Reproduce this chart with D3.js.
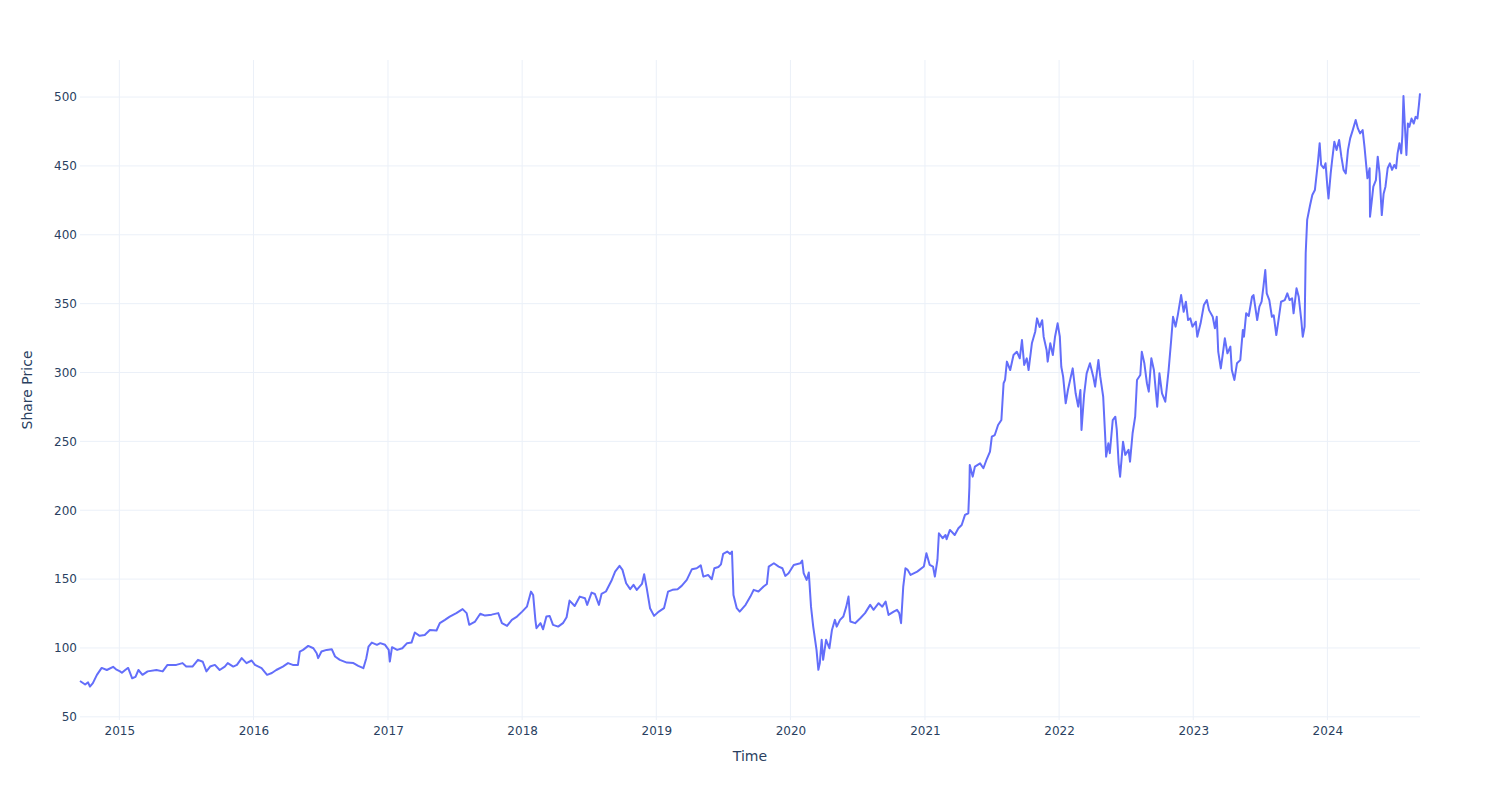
<!DOCTYPE html>
<html>
<head>
<meta charset="utf-8">
<script src="https://cdn.jsdelivr.net/npm/d3@7"></script>
<style>
  html, body { margin: 0; padding: 0; background: #fff; }
  svg { display: block; font-family: "DejaVu Sans", Verdana, Arial, sans-serif; }
</style>
</head>
<body>
<svg id="chart" width="1500" height="800"></svg>
<script>
// ---- data ----
const dates = [
"2014-09-16","2014-09-30","2014-10-08","2014-10-13","2014-10-21","2014-11-01","2014-11-14","2014-11-28","2014-12-15","2014-12-23",
"2015-01-03","2015-01-08","2015-01-17","2015-01-25","2015-02-05","2015-02-14","2015-02-22","2015-03-05","2015-03-19","2015-04-12",
"2015-04-29","2015-05-12","2015-06-05","2015-06-22","2015-07-02","2015-07-19","2015-08-03","2015-08-16","2015-08-26","2015-09-05",
"2015-09-18","2015-10-01","2015-10-15","2015-10-23","2015-11-07","2015-11-17","2015-11-30","2015-12-13","2015-12-27",
"2016-01-05","2016-01-23","2016-02-07","2016-02-20","2016-03-03","2016-03-21","2016-04-04","2016-04-17","2016-05-01","2016-05-06",
"2016-05-15","2016-05-29","2016-06-12","2016-06-21","2016-06-25","2016-07-04","2016-07-18","2016-08-01","2016-08-10","2016-08-23",
"2016-09-11","2016-09-29","2016-10-12","2016-10-26","2016-11-03","2016-11-09","2016-11-18","2016-12-02","2016-12-11","2016-12-24",
"2017-01-03","2017-01-06","2017-01-12","2017-01-26","2017-02-09","2017-02-22","2017-03-06","2017-03-15","2017-03-28","2017-04-11",
"2017-04-25","2017-05-13","2017-05-22","2017-06-05","2017-06-18","2017-07-06","2017-07-23","2017-08-03","2017-08-10","2017-08-26",
"2017-09-09","2017-09-22","2017-10-10","2017-10-28","2017-11-07","2017-11-21","2017-12-04","2017-12-18",
"2018-01-01","2018-01-14","2018-01-25","2018-01-31","2018-02-06","2018-02-09","2018-02-20","2018-02-27","2018-03-08","2018-03-17",
"2018-03-26","2018-04-09","2018-04-22","2018-05-02","2018-05-10","2018-05-24","2018-06-07","2018-06-21","2018-06-27","2018-07-09",
"2018-07-18","2018-07-29","2018-08-05","2018-08-17","2018-09-02","2018-09-11","2018-09-23","2018-10-01","2018-10-11","2018-10-22",
"2018-10-31","2018-11-09","2018-11-23","2018-11-29","2018-12-06","2018-12-15","2018-12-26",
"2019-01-08","2019-01-22","2019-02-02","2019-02-14","2019-02-28","2019-03-11","2019-03-25","2019-04-08","2019-04-21","2019-05-02",
"2019-05-09","2019-05-22","2019-06-01","2019-06-08","2019-06-19","2019-06-26","2019-07-02","2019-07-13","2019-07-21","2019-07-26",
"2019-07-30","2019-08-08","2019-08-16","2019-09-01","2019-09-14","2019-09-23","2019-10-06","2019-10-20","2019-10-29","2019-11-03",
"2019-11-17","2019-11-30","2019-12-10","2019-12-18","2019-12-27",
"2020-01-10","2020-01-28","2020-02-02","2020-02-06","2020-02-14","2020-02-20","2020-02-26","2020-03-03","2020-03-12","2020-03-17",
"2020-03-21","2020-03-26","2020-03-30","2020-04-07","2020-04-16","2020-04-23","2020-05-01","2020-05-06","2020-05-15","2020-05-24",
"2020-06-01","2020-06-07","2020-06-12","2020-06-25","2020-07-09","2020-07-22","2020-08-05","2020-08-14","2020-08-28","2020-09-07",
"2020-09-16","2020-09-24","2020-10-08","2020-10-17","2020-10-23","2020-10-28","2020-11-03","2020-11-09","2020-11-15","2020-11-23",
"2020-12-11","2020-12-29",
"2021-01-05","2021-01-14","2021-01-23","2021-01-28","2021-02-04","2021-02-08","2021-02-18","2021-02-26","2021-03-01","2021-03-10",
"2021-03-23","2021-04-02","2021-04-11","2021-04-20","2021-04-29","2021-05-02","2021-05-03","2021-05-11","2021-05-17","2021-05-31",
"2021-06-09","2021-06-18","2021-06-27","2021-07-02","2021-07-10","2021-07-19","2021-07-28","2021-08-03","2021-08-07","2021-08-12",
"2021-08-21","2021-08-30","2021-09-08","2021-09-16","2021-09-22","2021-09-28","2021-10-05","2021-10-10","2021-10-19","2021-10-28",
"2021-11-02","2021-11-09","2021-11-16","2021-11-20","2021-11-28","2021-12-01","2021-12-08","2021-12-15","2021-12-21","2021-12-28",
"2022-01-03","2022-01-07","2022-01-12","2022-01-19","2022-01-25","2022-02-02","2022-02-07","2022-02-15","2022-02-22","2022-02-28",
"2022-03-03","2022-03-10","2022-03-17","2022-03-26","2022-04-04","2022-04-09","2022-04-18","2022-04-23","2022-04-27","2022-05-01",
"2022-05-06","2022-05-09","2022-05-15","2022-05-19","2022-05-27","2022-06-03","2022-06-07","2022-06-12","2022-06-16","2022-06-24",
"2022-06-30","2022-07-09","2022-07-13","2022-07-20","2022-07-27","2022-08-01","2022-08-10","2022-08-14","2022-08-21","2022-08-28",
"2022-09-02","2022-09-09","2022-09-16","2022-09-25","2022-10-01","2022-10-08","2022-10-17","2022-10-26","2022-11-02","2022-11-07",
"2022-11-14","2022-11-20","2022-11-29","2022-12-06","2022-12-12","2022-12-18","2022-12-24","2022-12-30",
"2023-01-08","2023-01-12","2023-01-21","2023-01-30","2023-02-07","2023-02-13","2023-02-23","2023-03-01","2023-03-06","2023-03-10",
"2023-03-17","2023-03-22","2023-03-28","2023-04-04","2023-04-12","2023-04-16","2023-04-23","2023-04-30","2023-05-09","2023-05-16",
"2023-05-19","2023-05-25","2023-06-01","2023-06-10","2023-06-14","2023-06-24","2023-06-30","2023-07-06","2023-07-11","2023-07-16",
"2023-07-20","2023-07-27","2023-08-03","2023-08-08","2023-08-15","2023-08-21","2023-08-28","2023-09-07","2023-09-14","2023-09-20",
"2023-09-27","2023-10-01","2023-10-09","2023-10-15","2023-10-22","2023-10-26","2023-10-31","2023-11-03","2023-11-07","2023-11-15",
"2023-11-21","2023-11-28","2023-12-02","2023-12-06","2023-12-11","2023-12-15","2023-12-22","2023-12-27",
"2024-01-01","2024-01-04","2024-01-10","2024-01-14","2024-01-20","2024-01-26","2024-02-02","2024-02-08","2024-02-14","2024-02-20",
"2024-02-26","2024-03-03","2024-03-10","2024-03-18","2024-03-24","2024-03-30","2024-04-06","2024-04-11","2024-04-16","2024-04-19",
"2024-04-25","2024-04-26","2024-05-01","2024-05-05","2024-05-12","2024-05-17","2024-05-22","2024-05-26","2024-05-28","2024-06-02",
"2024-06-07","2024-06-13","2024-06-19","2024-06-25","2024-07-01","2024-07-06","2024-07-10","2024-07-15","2024-07-20","2024-07-23",
"2024-07-26","2024-07-30","2024-08-03","2024-08-07","2024-08-11","2024-08-17","2024-08-23","2024-08-28","2024-09-02","2024-09-06",
"2024-09-09"
];
const prices = [
76,73.5,75,72,74.5,80.5,85.5,84,86.3,84.5,
83,82,84,85.5,78,79,84,80.5,83,84,
83,87.7,87.7,89,86.5,86.5,91.4,90,83,86.5,
87.7,84,86.5,89,86.5,87.7,92.6,89,90.9,
87.7,85.3,80.5,81.8,84,86.5,89,87.7,87.7,97.4,
98.6,101.5,99.8,96.2,92.6,97.4,98.6,99.1,93.8,91.4,
89.4,89,87,85.3,92.6,101,103.9,102.3,103.5,102.3,
98.6,90.1,100.6,98.6,99.8,103.5,103.9,111.2,108.8,109.4,
113.1,112.7,118,120.4,122.8,125.3,128.2,125.3,116.8,119.2,
124.8,123.5,124.2,125.3,118,116,120.4,122.8,
126.4,130,140.9,138.5,120.4,114.4,118,113.6,122.8,123.2,
116.8,115.5,118,122.3,134.4,130.5,137.3,136.1,131.3,140.2,
139.2,131.3,139.2,141,149.4,155.4,159.6,156.7,147,142.7,
145.8,142.2,146.5,153.5,143.4,128.9,123.3,
126.4,128.9,140.9,142.2,142.7,145.1,149.4,157.2,157.9,160,
151.8,153,149.9,157.9,158.8,160.7,168.3,170,168.3,170,
138.5,128.9,126.4,131.3,137.3,142.2,141,144.6,146.5,159.1,
161.5,159.1,157.9,152.3,154.3,
160.3,161.5,163.4,154.3,149.4,154.8,130,115.5,98.6,84.1,
89,105.9,91.4,105.9,99.8,113.1,120.4,115.5,120.4,122.8,
130,137.3,119.2,118,121.6,125.3,131.3,127.7,132.5,130,
133.7,124,126.4,127.7,125.3,118,144.6,157.9,156.7,153,
155.4,159.1,
168.8,160.3,159.1,151.8,163.9,183.3,179.7,182,179,185.7,
182,186.9,189.3,196.6,197.8,217,232.9,224.4,231.7,234,
230.5,237,242.5,253.4,254.6,261.9,265.5,292.2,294.6,307.9,
301.8,312.7,315.1,310.3,323.6,305.5,310.3,301.8,321.2,329.6,
339.3,333,338,326,316.4,307.9,321.2,312.7,326,335.7,
326,304.2,297,277.6,287.3,297,303,284.9,275.2,287.3,
258.3,283.7,299.4,306.7,297,289.7,309,297,289.7,282.4,
255.9,238.9,248.6,241.4,265.5,267.9,258.3,234.1,224.4,249.8,
240.2,243.8,235.3,255.9,267.9,294.6,298.2,315.1,306.7,292.2,
286.1,310.3,301.8,275.2,299.4,284.9,278.8,301.8,323.6,340.5,
333.3,341.7,356.2,344.1,351.4,338.1,339.3,333.3,
336.9,326,335.7,349,352.6,345.3,340.5,332.1,340.5,315.1,
303,312.7,324.8,313.9,318.8,301.8,294.6,306.7,309,330.9,
326,343,341,355,356.2,338.1,347.8,351.5,362.3,374.4,
357.5,352.6,340.5,341.5,327.2,338.1,351.4,352.6,357.5,352.6,
353.8,343,361.1,355,338.1,326,333.3,386.6,410.8,421.6,
428.9,432.5,442.2,451.9,466.5,450.7,448.3,451.9,
434.9,426.4,444.6,454.3,467.6,461.5,468.8,456.7,447.1,444.6,
461.5,470,476,483.3,477.2,473.6,476,463.9,449.5,441,
448.3,413.1,425.2,434.9,439.7,456.7,444.6,424,414.3,429.8,
434.9,448.3,451.9,447.1,450.7,448.3,459.1,466.5,459.1,472.4,
500.7,478.4,457.9,480.8,478.4,484.4,480.8,485.6,484.4,494.1,
502.6
];
const yTickValues = [50,100,150,200,250,300,350,400,450,500];
const xTickYears = [2015,2016,2017,2018,2019,2020,2021,2022,2023,2024];
const yDomain = [47.7, 526.9];
const xTitle = "Time";
const yTitle = "Share Price";

// ---- drawing ----
const parse = d3.timeParse("%Y-%m-%d");
const data = dates.map((d, i) => ({ date: parse(d), value: prices[i] }));

const margin = { left: 80, right: 80, top: 60, bottom: 80 };
const W = 1500, H = 800;
const svg = d3.select("#chart");

const x = d3.scaleTime()
  .domain(d3.extent(data, d => d.date))
  .range([margin.left, W - margin.right]);
const y = d3.scaleLinear()
  .domain(yDomain)
  .range([H - margin.bottom, margin.top]);

const gridColor = "#ebf0f8";
const textColor = "#2a3f5f";

// grids
const xTicks = xTickYears.map(yr => new Date(yr, 0, 1));
svg.append("g")
  .selectAll("line").data(xTicks).join("line")
  .attr("x1", d => x(d)).attr("x2", d => x(d))
  .attr("y1", margin.top).attr("y2", H - margin.bottom)
  .attr("stroke", gridColor).attr("stroke-width", 1);

svg.append("g")
  .selectAll("line").data(yTickValues).join("line")
  .attr("x1", margin.left).attr("x2", W - margin.right)
  .attr("y1", d => y(d)).attr("y2", d => y(d))
  .attr("stroke", gridColor).attr("stroke-width", 1);

// axes (labels only, Plotly-like)
const xAxis = d3.axisBottom(x).tickValues(xTicks).tickFormat(d3.timeFormat("%Y")).tickSize(0).tickPadding(6);
const gx = svg.append("g").attr("transform", `translate(0,${H - margin.bottom})`).call(xAxis);
gx.select(".domain").remove();
gx.selectAll("text").attr("fill", textColor).style("font-size", "12px")
  .style("font-family", "'DejaVu Sans', Verdana, Arial, sans-serif");

const yAxis = d3.axisLeft(y).tickValues(yTickValues).tickSize(0).tickPadding(3);
const gy = svg.append("g").attr("transform", `translate(${margin.left},0)`).call(yAxis);
gy.select(".domain").remove();
gy.selectAll("text").attr("fill", textColor).style("font-size", "12px")
  .style("font-family", "'DejaVu Sans', Verdana, Arial, sans-serif");

// line
const line = d3.line().x(d => x(d.date)).y(d => y(d.value));
svg.append("path")
  .datum(data)
  .attr("fill", "none")
  .attr("stroke", "#636efa")
  .attr("stroke-width", 2)
  .attr("stroke-linejoin", "round")
  .attr("d", line);

// axis titles
svg.append("text")
  .attr("x", (margin.left + W - margin.right) / 2)
  .attr("y", 761)
  .attr("text-anchor", "middle")
  .attr("fill", textColor)
  .style("font-size", "14px")
  .text(xTitle);

svg.append("text")
  .attr("transform", `translate(32,${(margin.top + H - margin.bottom) / 2}) rotate(-90)`)
  .attr("text-anchor", "middle")
  .attr("fill", textColor)
  .style("font-size", "14px")
  .text(yTitle);
</script>
</body>
</html>
